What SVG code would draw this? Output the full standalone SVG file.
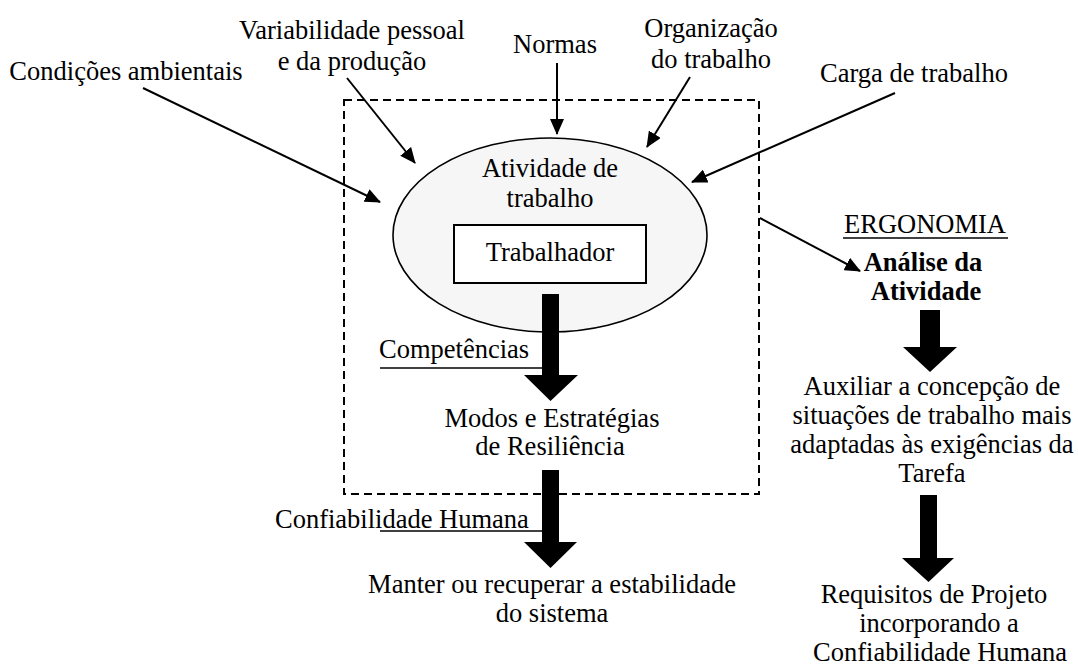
<svg xmlns="http://www.w3.org/2000/svg" width="1078" height="666" viewBox="0 0 1078 666">
  <style>
    text { font-family: "Liberation Serif", "DejaVu Serif", serif; font-size: 26.5px; fill: #000; }
    .c { text-anchor: middle; }
    .b { font-weight: bold; }
    .thin { stroke: #000; stroke-width: 2; fill: none; }
    .big { fill: #000; stroke: none; }
    .ul { stroke: #000; stroke-width: 1.6; }
  </style>
  <defs>
    <marker id="head" markerUnits="userSpaceOnUse" markerWidth="16" markerHeight="14" refX="15" refY="7" orient="auto">
      <path d="M0,0 L16,7 L0,14 z" fill="#000"/>
    </marker>
  </defs>

  <rect width="1078" height="666" fill="#fff"/>

  <g font-family="Liberation Serif, DejaVu Serif, serif">
  <!-- system boundary -->
  <g id="boundary">
    <rect x="344" y="100" width="415" height="394" fill="none" stroke="#000" stroke-width="2" stroke-dasharray="8 5"/>
  </g>

  <!-- influencing factors -->
  <g id="condicoes"><text x="126" y="80" class="c">Condições ambientais</text></g>
  <g id="variabilidade">
    <text x="352" y="39" class="c">Variabilidade pessoal</text>
    <text x="352" y="70" class="c">e da produção</text>
  </g>
  <g id="normas"><text x="555" y="53" class="c">Normas</text></g>
  <g id="organizacao">
    <text x="711" y="37" class="c">Organização</text>
    <text x="711" y="68" class="c">do trabalho</text>
  </g>
  <g id="carga"><text x="914" y="82" class="c">Carga de trabalho</text></g>

  <!-- work activity -->
  <g id="atividade">
    <ellipse cx="550" cy="235" rx="157" ry="97" fill="#f6f6f6" stroke="#000" stroke-width="1.6"/>
    <text x="550" y="177" class="c">Atividade de</text>
    <text x="550" y="207" class="c">trabalho</text>
  </g>
  <g id="trabalhador">
    <rect x="454" y="225" width="192" height="58" fill="#fff" stroke="#000" stroke-width="2"/>
    <text x="550" y="261" class="c">Trabalhador</text>
  </g>

  <g id="competencias">
    <text x="379" y="358">Competências</text>
    <line x1="380" y1="368" x2="543" y2="368" class="ul"/>
  </g>
  <g id="modos">
    <text x="552" y="427" class="c">Modos e Estratégias</text>
    <text x="550" y="455" class="c">de Resiliência</text>
  </g>
  <g id="confiabilidade">
    <text x="275" y="528">Confiabilidade Humana</text>
    <line x1="380" y1="531" x2="543" y2="531" class="ul"/>
  </g>
  <g id="estabilidade">
    <text x="552" y="593" class="c">Manter ou recuperar a estabilidade</text>
    <text x="552" y="622" class="c">do sistema</text>
  </g>

  <!-- ergonomics column -->
  <g id="ergonomia">
    <text x="925" y="233" class="c">ERGONOMIA</text>
    <line x1="843" y1="238" x2="1008" y2="238" class="ul"/>
  </g>
  <g id="analise">
    <text x="923" y="271" class="c b">Análise da</text>
    <text x="926" y="300" class="c b">Atividade</text>
  </g>
  <g id="auxiliar">
    <text x="932" y="395" class="c">Auxiliar a concepção de</text>
    <text x="932" y="424" class="c">situações de trabalho mais</text>
    <text x="932" y="453" class="c">adaptadas às exigências da</text>
    <text x="932" y="482" class="c">Tarefa</text>
  </g>
  <g id="requisitos">
    <text x="934" y="603" class="c">Requisitos de Projeto</text>
    <text x="939" y="632" class="c">incorporando a</text>
    <text x="940" y="661" class="c">Confiabilidade Humana</text>
  </g>

  <!-- connectors -->
  <g id="connectors">
    <line x1="143" y1="88" x2="380" y2="202" class="thin" marker-end="url(#head)"/>
    <line x1="347" y1="78" x2="415" y2="163" class="thin" marker-end="url(#head)"/>
    <line x1="557" y1="63" x2="557" y2="134" class="thin" marker-end="url(#head)"/>
    <line x1="690" y1="77" x2="647" y2="147" class="thin" marker-end="url(#head)"/>
    <line x1="895" y1="93" x2="692" y2="182" class="thin" marker-end="url(#head)"/>
    <line x1="760" y1="218" x2="860" y2="271" class="thin" marker-end="url(#head)"/>

    <path class="big" d="M542,294 H559 V375 H578 L550.5,401 L524,375 H542 Z"/>
    <path class="big" d="M542,470 H559 V542 H577 L550.5,568 L524,542 H542 Z"/>
    <path class="big" d="M920,310 H940 V347 H957 L930,372 L903,347 H920 Z"/>
    <path class="big" d="M920,495 H937 V558 H954 L928.5,582 L902,558 H920 Z"/>
  </g>
  </g>
</svg>
